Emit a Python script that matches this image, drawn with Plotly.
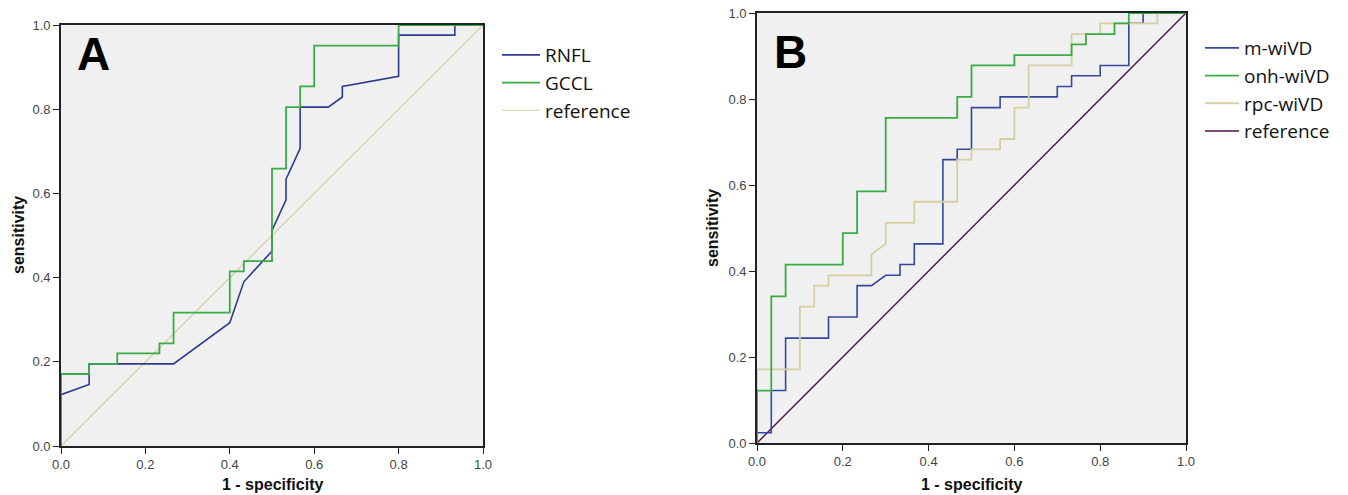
import plotly.graph_objects as go

# ---------------- Panel A data (ROC vertices: 1 - specificity, sensitivity) ----------------
rnfl_fpr = [0, 0, 0.0667, 0.0667, 0.2667, 0.4, 0.4333, 0.5, 0.5, 0.5333, 0.5333, 0.5667, 0.5667,
            0.6333, 0.6667, 0.6667, 0.8, 0.8, 0.9333, 0.9333, 1.0]
rnfl_tpr = [0, 0.122, 0.146, 0.195, 0.195, 0.293, 0.390, 0.463, 0.512, 0.585, 0.634, 0.707, 0.805,
            0.805, 0.829, 0.854, 0.878, 0.976, 0.976, 1.0, 1.0]

gccl_fpr = [0, 0, 0.0667, 0.0667, 0.1333, 0.1333, 0.2333, 0.2333, 0.2667, 0.2667, 0.4, 0.4,
            0.4333, 0.4333, 0.5, 0.5, 0.5333, 0.5333, 0.5667, 0.5667, 0.6, 0.6, 0.8, 0.8, 1.0]
gccl_tpr = [0, 0.171, 0.171, 0.195, 0.195, 0.220, 0.220, 0.244, 0.244, 0.317, 0.317, 0.415,
            0.415, 0.439, 0.439, 0.659, 0.659, 0.805, 0.805, 0.854, 0.854, 0.951, 0.951, 1.0, 1.0]

ref_x = [0, 1]
ref_y = [0, 1]

# ---------------- Panel B data ----------------
m_fpr = [0, 0, 0.0333, 0.0333, 0.0667, 0.0667, 0.1667, 0.1667, 0.2333, 0.2333,
         0.2667, 0.3, 0.3333, 0.3333, 0.3667, 0.3667, 0.4333, 0.4333, 0.4667, 0.4667,
         0.5, 0.5, 0.5667, 0.5667, 0.7, 0.7, 0.7333, 0.7333, 0.8, 0.8,
         0.8667, 0.8667, 0.9, 0.9, 1.0]
m_tpr = [0, 0.024, 0.024, 0.122, 0.122, 0.244, 0.244, 0.293, 0.293, 0.366,
         0.366, 0.390, 0.390, 0.415, 0.415, 0.463, 0.463, 0.659, 0.659, 0.683,
         0.683, 0.780, 0.780, 0.805, 0.805, 0.829, 0.829, 0.854, 0.854, 0.878,
         0.878, 0.976, 0.976, 1.0, 1.0]

onh_fpr = [0, 0, 0.0333, 0.0333, 0.0667, 0.0667, 0.2, 0.2, 0.2333, 0.2333, 0.3, 0.3,
           0.4667, 0.4667, 0.5, 0.5, 0.6, 0.6, 0.7333, 0.7333, 0.7667, 0.7667,
           0.8333, 0.8333, 0.8667, 0.8667, 1.0]
onh_tpr = [0, 0.122, 0.122, 0.341, 0.341, 0.415, 0.415, 0.488, 0.488, 0.585, 0.585, 0.756,
           0.756, 0.805, 0.805, 0.878, 0.878, 0.902, 0.902, 0.927, 0.927, 0.951,
           0.951, 0.976, 0.976, 1.0, 1.0]

rpc_fpr = [0, 0, 0.1, 0.1, 0.1333, 0.1333, 0.1667, 0.1667, 0.2667, 0.2667, 0.3, 0.3,
           0.3667, 0.3667, 0.4667, 0.4667, 0.5, 0.5, 0.5667, 0.5667, 0.6, 0.6,
           0.6333, 0.6333, 0.7333, 0.7333, 0.8, 0.8, 0.9333, 0.9333, 1.0]
rpc_tpr = [0, 0.171, 0.171, 0.317, 0.317, 0.366, 0.366, 0.390, 0.390, 0.439, 0.463, 0.512,
           0.512, 0.561, 0.561, 0.659, 0.659, 0.683, 0.683, 0.707, 0.707, 0.780,
           0.780, 0.878, 0.878, 0.951, 0.951, 0.976, 0.976, 1.0, 1.0]

tick_vals = [0, 0.2, 0.4, 0.6, 0.8, 1.0]
tick_text = ["0.0", "0.2", "0.4", "0.6", "0.8", "1.0"]

BLUE_A = "#2e3a8c"
BLUE_B = "#34489e"
GREEN = "#3aab45"
TAN = "#d5cfa2"
PURPLE = "#4d1248"

W, H = 1348, 495

fig = go.Figure()

# Panel A
fig.add_trace(go.Scatter(x=ref_x, y=ref_y, mode="lines", name="reference",
                         line=dict(color=TAN, width=1.2), xaxis="x", yaxis="y",
                         legend="legend", legendrank=3))
fig.add_trace(go.Scatter(x=rnfl_fpr, y=rnfl_tpr, mode="lines", name="RNFL",
                         line=dict(color=BLUE_A, width=1.6), xaxis="x", yaxis="y",
                         legend="legend", legendrank=1))
fig.add_trace(go.Scatter(x=gccl_fpr, y=gccl_tpr, mode="lines", name="GCCL",
                         line=dict(color=GREEN, width=1.8), xaxis="x", yaxis="y",
                         legend="legend", legendrank=2))

# Panel B
fig.add_trace(go.Scatter(x=ref_x, y=ref_y, mode="lines", name="reference",
                         line=dict(color=PURPLE, width=1.4), xaxis="x2", yaxis="y2",
                         legend="legend2", legendrank=4))
fig.add_trace(go.Scatter(x=m_fpr, y=m_tpr, mode="lines", name="m-wiVD",
                         line=dict(color=BLUE_B, width=1.6), xaxis="x2", yaxis="y2",
                         legend="legend2", legendrank=1))
fig.add_trace(go.Scatter(x=rpc_fpr, y=rpc_tpr, mode="lines", name="rpc-wiVD",
                         line=dict(color=TAN, width=1.8), xaxis="x2", yaxis="y2",
                         legend="legend2", legendrank=3))
fig.add_trace(go.Scatter(x=onh_fpr, y=onh_tpr, mode="lines", name="onh-wiVD",
                         line=dict(color=GREEN, width=1.8), xaxis="x2", yaxis="y2",
                         legend="legend2", legendrank=2))

axis_common = dict(range=[0, 1], tickvals=tick_vals, ticktext=tick_text,
                   showgrid=False, zeroline=False, showline=True, mirror=True,
                   linecolor="#222222", linewidth=1.6, ticks="outside", ticklen=6,
                   tickwidth=1.4, tickcolor="#222222", automargin=False,
                   tickfont=dict(family="Liberation Sans, Arial", size=13, color="#444444"),
                   fixedrange=True)

def px_x(p):
    return p / W

def px_y(p):
    return 1 - p / H

fig.update_layout(
    width=W, height=H, autosize=False,
    margin=dict(l=0, r=0, t=0, b=0, autoexpand=False),
    paper_bgcolor="white", plot_bgcolor="#f0f0f0",
    xaxis=dict(domain=[px_x(61), px_x(483)], anchor="y", **axis_common),
    yaxis=dict(domain=[px_y(446), px_y(25)], anchor="x", **axis_common),
    xaxis2=dict(domain=[px_x(757), px_x(1186)], anchor="y2", **axis_common),
    yaxis2=dict(domain=[px_y(443), px_y(13)], anchor="x2", **axis_common),
    legend=dict(x=px_x(497), y=px_y(36), xanchor="left", yanchor="top",
                font=dict(family="Open Sans", size=19, color="#111111"),
                bgcolor="rgba(0,0,0,0)", itemwidth=38),
    legend2=dict(x=px_x(1200), y=px_y(29), xanchor="left", yanchor="top",
                 font=dict(family="Open Sans", size=19, color="#111111"),
                 bgcolor="rgba(0,0,0,0)", itemwidth=34),
    showlegend=True,
)

title_font = dict(family="Liberation Sans, Arial", size=16, color="#111111")
annotations = [
    dict(text="<b>A</b>", x=px_x(93), y=px_y(54), xref="paper", yref="paper",
         xanchor="center", yanchor="middle", showarrow=False,
         font=dict(family="Liberation Sans, Arial", size=46, color="black")),
    dict(text="<b>B</b>", x=px_x(790), y=px_y(52), xref="paper", yref="paper",
         xanchor="center", yanchor="middle", showarrow=False,
         font=dict(family="Liberation Sans, Arial", size=46, color="black")),
    dict(text="<b>1 - specificity</b>", x=px_x(272), y=px_y(484), xref="paper", yref="paper",
         xanchor="center", yanchor="middle", showarrow=False, font=title_font),
    dict(text="<b>1 - specificity</b>", x=px_x(971), y=px_y(484), xref="paper", yref="paper",
         xanchor="center", yanchor="middle", showarrow=False, font=title_font),
    dict(text="<b>sensitivity</b>", x=px_x(19), y=px_y(235), xref="paper", yref="paper",
         xanchor="center", yanchor="middle", showarrow=False, textangle=-90, font=title_font),
    dict(text="<b>sensitivity</b>", x=px_x(712), y=px_y(228), xref="paper", yref="paper",
         xanchor="center", yanchor="middle", showarrow=False, textangle=-90, font=title_font),
]
fig.update_layout(annotations=annotations)

# remove the browser's default page margin so paper pixels match the window
fig.write_html("out.html", config={"displayModeBar": False},
               post_script="document.body.style.margin='0';document.body.style.overflow='hidden';")
